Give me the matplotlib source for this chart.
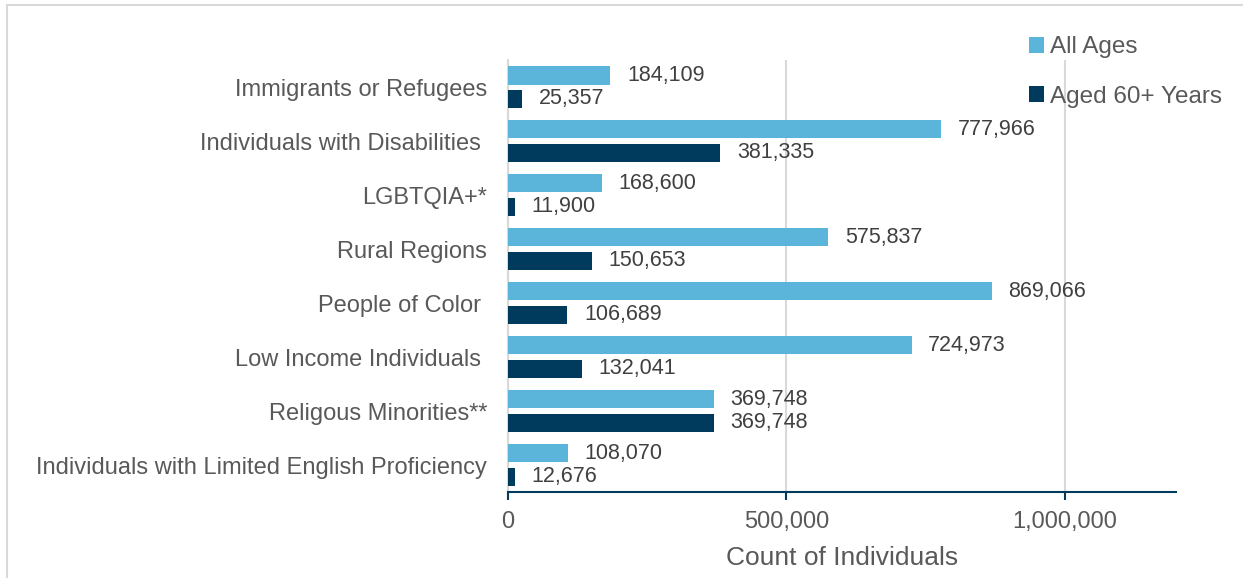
import matplotlib.pyplot as plt
from matplotlib.patches import Patch
from matplotlib.lines import Line2D
import numpy as np

plt.rcParams['font.family'] = ['Liberation Sans', 'DejaVu Sans']

# Podatki
kategorije = [
    'Immigrants or Refugees',
    'Individuals with Disabilities ',
    'LGBTQIA+*',
    'Rural Regions',
    'People of Color ',
    'Low Income Individuals ',
    'Religous Minorities**',
    'Individuals with Limited English Proficiency',
]
vse_starosti = [184109, 777966, 168600, 575837, 869066, 724973, 369748, 108070]
starejsi_60 = [25357, 381335, 11900, 150653, 106689, 132041, 369748, 12676]

svetla = '#5BB4DA'
temna = '#003A5D'
siva_besedilo = '#595959'
siva_mreza = '#D9D9D9'

fig = plt.figure(figsize=(12.43, 5.78), dpi=100)
ax = fig.add_axes([0.4087, 0.1488, 0.946 - 0.4087, 0.896 - 0.1488])

y = np.arange(len(kategorije))
visina = 0.34
zamik = 0.218

b1 = ax.barh(y - zamik, vse_starosti, height=visina, color=svetla, zorder=3)
b2 = ax.barh(y + zamik, starejsi_60, height=visina, color=temna, zorder=3)

# Oznake vrednosti
for stolpci, vrednosti in ((b1, vse_starosti), (b2, starejsi_60)):
    for s, v in zip(stolpci, vrednosti):
        ax.annotate(f'{v:,}', (v, s.get_y() + s.get_height() / 2),
                    xytext=(12, 0), textcoords='offset points',
                    ha='left', va='center', fontsize=15.5, color='#404040')

ax.set_xlim(0, 1200000)
ax.set_ylim(len(kategorije) - 0.5, -0.5)
ax.set_yticks(y)
ax.set_yticklabels(kategorije, fontsize=17, color=siva_besedilo)
ax.tick_params(axis='y', length=0, pad=15)

ax.set_xticks([0, 500000, 1000000])
ax.set_xticklabels(['0', '500,000', '1,000,000'], fontsize=17, color=siva_besedilo)
ax.tick_params(axis='x', length=6, width=1.5, color=temna, direction='out', pad=8)
ax.set_xlabel('Count of Individuals', fontsize=19, color=siva_besedilo, labelpad=9)

ax.xaxis.grid(True, color=siva_mreza, linewidth=1.5, zorder=0)
for k in ('top', 'right'):
    ax.spines[k].set_visible(False)
ax.spines['left'].set_color(siva_mreza)
ax.spines['left'].set_linewidth(1.5)
ax.spines['bottom'].set_color(temna)
ax.spines['bottom'].set_linewidth(1.5)

# Legenda
rocaji = [Patch(facecolor=svetla, label='All Ages'),
          Patch(facecolor=temna, label='Aged 60+ Years')]
fig.legend(handles=rocaji, loc='upper left', bbox_to_anchor=(0.828, 0.937),
           frameon=False, fontsize=17.5, handlelength=0.6, handleheight=0.6,
           handletextpad=0.25, labelspacing=1.12, labelcolor=siva_besedilo,
           borderaxespad=0, borderpad=0)

# Okvir slike
fig.add_artist(Line2D([0.0056, 1], [0.9913, 0.9913], color=siva_mreza, linewidth=1.5))
fig.add_artist(Line2D([0.0056, 0.0056], [0, 0.9913], color=siva_mreza, linewidth=1.5))

plt.savefig('out.png', dpi=100)
